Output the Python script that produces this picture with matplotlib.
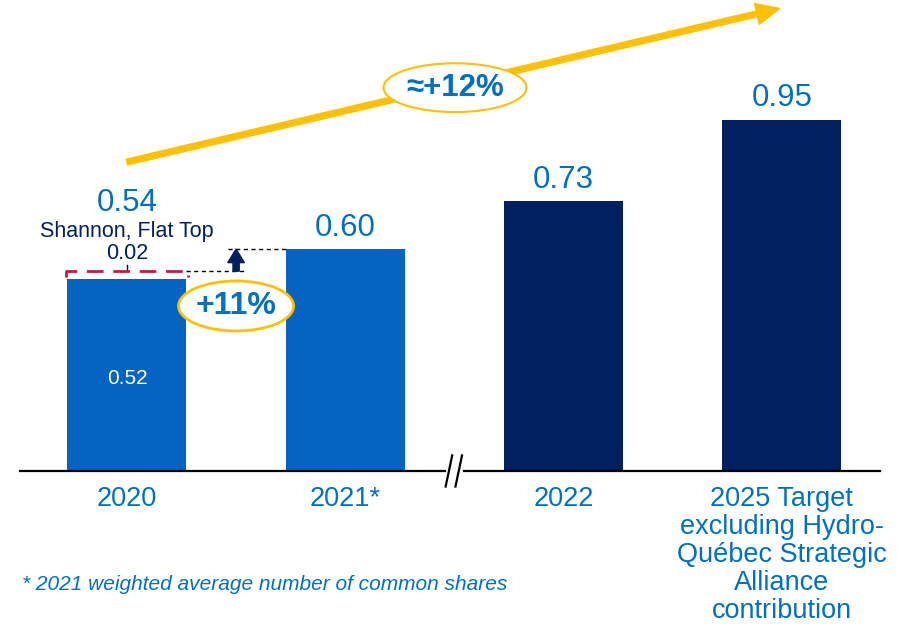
import matplotlib
matplotlib.use("Agg")
import matplotlib.pyplot as plt
from matplotlib.patches import Ellipse

plt.rcParams['font.family'] = ['Liberation Sans', 'DejaVu Sans']

# EPS by year; 2020 is split into base + Shannon/Flat Top contribution
categories = ["2020", "2021*", "2022",
              "2025 Target\nexcluding Hydro-\nQuébec Strategic\nAlliance\ncontribution"]
values = [0.52, 0.60, 0.73, 0.95]
shannon = 0.02
labels = ["0.54", "0.60", "0.73", "0.95"]
step_pct = "+11%"
trend_pct = "≈+12%"
footnote = "* 2021 weighted average number of common shares"

BLUE = "#0563C1"
NAVY = "#002060"
TEXT_BLUE = "#0070C0"
GOLD = "#FFC000"
RED = "#C8174A"
bar_colors = [BLUE, BLUE, NAVY, NAVY]

fig = plt.figure(figsize=(8.98, 6.24), dpi=100)
ax = fig.add_axes([20 / 898, 153 / 624, 860 / 898, 471 / 624])
ax.set_xlim(-0.49, 3.45)
ax.set_ylim(0, 1.273)
for s in ax.spines.values():
    s.set_visible(False)
ax.set_yticks([])

x = list(range(len(values)))
w = 0.545
ax.bar(x, values, width=w, color=bar_colors, zorder=2)

ax.set_xticks(x)
ax.set_xticklabels(categories, color=TEXT_BLUE, fontsize=19.5, linespacing=1.11,
                   va="top")
ax.tick_params(axis="x", length=0, pad=10.5)

# baseline with break marks between 2021 and 2022
ax.plot([-0.49, 1.455], [0, 0], color="black", lw=1.6, clip_on=False)
ax.plot([1.545, 3.45], [0, 0], color="black", lw=1.6, clip_on=False)
for dx in (-0.025, 0.02):
    ax.plot([1.5 + dx - 0.015, 1.5 + dx + 0.015], [-0.042, 0.042],
            color="black", lw=1.6, clip_on=False)

# value labels
tops = [values[0] + shannon] + values[1:]
offs = [38, 4.5, 4.5, 4.5]
for xi, top, lab, off in zip(x, tops, labels, offs):
    ax.annotate(lab, (xi, top), xytext=(0, off), textcoords="offset points",
                ha="center", va="bottom", fontsize=22.5, color=TEXT_BLUE)
ax.text(0, values[0] / 2 - 0.01, f"{values[0]:.2f}", ha="center", va="center",
        fontsize=15, color="white")

# Shannon / Flat Top increment on 2020
top20 = values[0] + shannon
ax.text(0, top20 + 0.106, "Shannon, Flat Top", ha="center", va="center",
        fontsize=15.5, color=NAVY)
ax.text(0, top20 + 0.047, f"{shannon:.2f}", ha="center", va="center",
        fontsize=15.5, color=NAVY)
ax.plot([-w / 2 - 0.005, -w / 2 - 0.005, w / 2 + 0.005, w / 2 + 0.005],
        [values[0] + 0.003, top20, top20, values[0] + 0.003],
        color=RED, lw=2, ls=(0, (6, 3.5)), zorder=3)
ax.plot([0, 0], [top20, top20 + 0.018], color="black", lw=1)

# step from 2020 to 2021
ax.plot([w / 2, 0.54], [top20, top20], color="black", lw=1, ls=(0, (3, 2.5)))
ax.plot([0.463, 1 - w / 2], [values[1], values[1]], color="black", lw=1,
        ls=(0, (3, 2.5)))
ax.annotate("", xy=(0.5, values[1]), xytext=(0.5, top20),
            arrowprops=dict(arrowstyle="simple,head_width=0.85,head_length=0.7,tail_width=0.32",
                            color=NAVY, shrinkA=0, shrinkB=0, mutation_scale=14))
ax.add_patch(Ellipse((0.5, 0.446), 0.527, 0.135, facecolor="white",
                     edgecolor=GOLD, lw=2, zorder=4))
ax.text(0.5, 0.446, step_pct, ha="center", va="center", fontsize=23,
        fontweight="bold", color=TEXT_BLUE, zorder=5)

# overall trend arrow
ax.annotate("", xy=(2.99, 1.25), xytext=(0.0, 0.835),
            arrowprops=dict(arrowstyle="simple,head_width=1.1,head_length=1.2,tail_width=0.3",
                            color=GOLD, shrinkA=0, shrinkB=0, mutation_scale=14),
            annotation_clip=False)
ax.add_patch(Ellipse((1.503, 1.036), 0.655, 0.132, facecolor="white",
                     edgecolor=GOLD, lw=1.5, zorder=4))
ax.text(1.503, 1.036, trend_pct, ha="center", va="center", fontsize=22.5,
        fontweight="bold", color=TEXT_BLUE, zorder=5)

fig.text(22 / 898, 1 - 585 / 624, footnote, ha="left", va="center",
         fontsize=15, style="italic", color=TEXT_BLUE)

fig.savefig("out.png", dpi=100)
